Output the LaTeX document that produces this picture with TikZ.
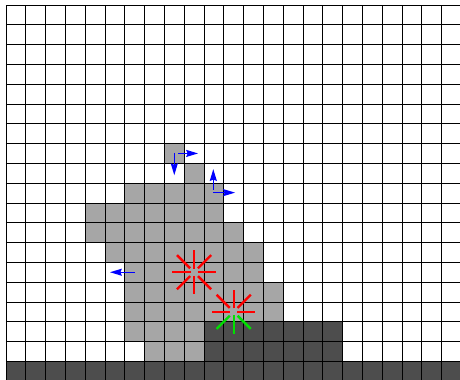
\documentclass[tikz,border=0pt]{standalone}
\definecolor{cellgray}{RGB}{166,166,166}
\definecolor{solidgray}{RGB}{77,77,77}
\definecolor{probeblue}{RGB}{0,0,255}
\definecolor{hitred}{RGB}{255,0,0}
\definecolor{hitgreen}{RGB}{0,225,0}
\usetikzlibrary{arrows.meta}

\begin{document}
\begin{tikzpicture}[x=0.5cm, y=0.5cm,
    lightcell/.style={fill=cellgray},
    darkcell/.style={fill=solidgray},
    gridline/.style={draw=black, line width=0.6pt, step=0.5cm},
    probe/.style={draw=probeblue, line width=1pt,
                  -{Stealth[length=8.5pt, width=5pt, inset=1pt, probeblue]}},
    ray/.style={line width=1.7pt}]
  \useasboundingbox (-0.303,0.06) rectangle (22.93,19.25);
  \clip (-0.303,0.06) rectangle (22.93,19.25);
  % occupied cells, one run per row: row/first/last
  \foreach \r/\a/\b in {11/8/8, 10/9/9, 9/6/10, 8/4/10, 7/4/11, 6/5/12,
                        5/6/12, 4/6/13, 3/6/13, 2/6/9, 1/7/9}
    \fill[lightcell] (\a,\r) rectangle (\b+1,\r+1);
  % ground
  \fill[darkcell] (10,1) rectangle (17,3);
  \fill[darkcell] (0,0) rectangle (23,1);
  \draw[gridline] (0,0) grid (23,19);
  % probes
  \coordinate (topcell) at (8.5,11.5);
  \coordinate (stepcell) at (10.47,9.52);
  \coordinate (sidecell) at (6.5,5.5);
  \draw[probe] (topcell) -- ++(0,-1.1);
  \draw[probe] ([xshift=0.1cm]topcell) -- ++(1.0,0);
  \draw[probe] ([yshift=0.07cm]stepcell) -- ++(0,1.05);
  \draw[probe] (stepcell) -- ++(1.1,0);
  \draw[probe] (sidecell) -- ++(-1.25,0);
  % contact bursts: angle/inner/outer
  \coordinate (burstA) at (9.5,5.5);
  \coordinate (burstB) at (11.5,3.5);
  \foreach \ang/\inr/\len in {0/0.18/1.1, 45/0.28/1.22, 90/0.18/1.1, 135/0.28/1.22,
                              180/0.18/1.1, 225/0.28/1.22, 270/0.18/1.1, 315/0.28/1.22}
    \draw[ray, hitred, shift={(burstA)}] (\ang:\inr) -- (\ang:\len);
  \foreach \ang/\inr/\len in {0/0.18/1.1, 45/0.28/1.22, 90/0.18/1.1, 135/0.28/1.22,
                              180/0.18/1.1}
    \draw[ray, hitred, shift={(burstB)}] (\ang:\inr) -- (\ang:\len);
  \foreach \ang/\inr/\len in {225/0.28/1.22, 270/0.18/1.1, 315/0.28/1.22}
    \draw[ray, hitgreen, shift={(burstB)}] (\ang:\inr) -- (\ang:\len);
\end{tikzpicture}
\end{document}
